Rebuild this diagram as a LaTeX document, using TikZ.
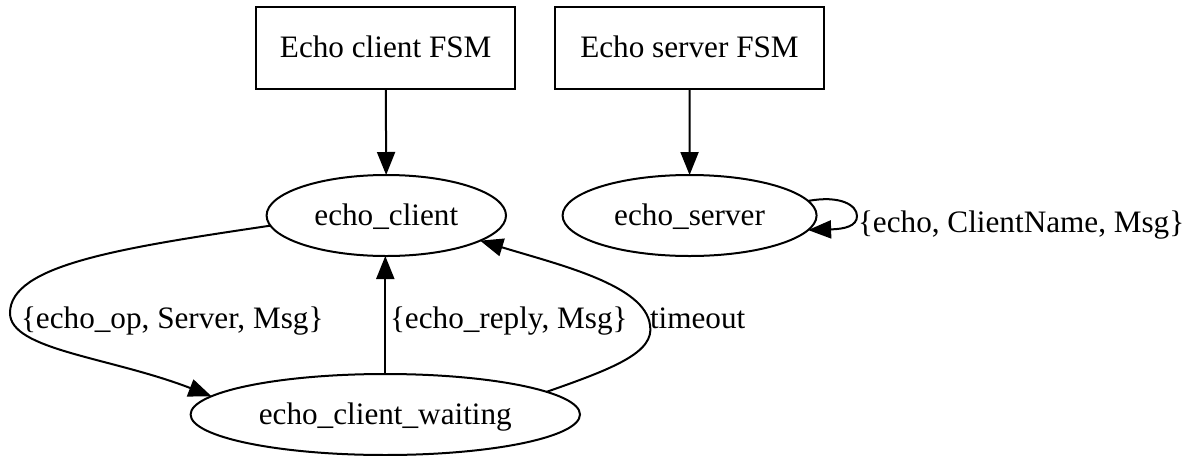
\documentclass[tikz,border=0pt]{standalone}
\usepackage{fontspec}
\setmainfont{Liberation Serif}
\usetikzlibrary{shapes.geometric,arrows.meta}
\begin{document}
\begin{tikzpicture}[x=0.5pt,y=-0.5pt,
  font=\fontsize{15.6}{18}\selectfont,
  every node/.style={inner sep=0pt,outer sep=0pt},
  state/.style={ellipse,draw,line width=1pt,minimum height=81pt*0.5,text height=1em,text depth=0.04em},
  fsmbox/.style={rectangle,draw,line width=1pt,minimum height=81.4pt*0.5,text height=1em,text depth=0.04em},
  arr/.style={line width=1pt,-{Triangle[length=11.5pt,width=9pt]}},
  lbl/.style={anchor=base west}]
\useasboundingbox (0,0) rectangle (1191,456);
% nodes
\node[fsmbox,minimum width=129.7pt] (cbox) at (385.7,48) {Echo client FSM};
\node[fsmbox,minimum width=134.5pt] (sbox) at (689.5,48) {Echo server FSM};
\node[state,minimum width=119.7pt] (cli) at (386.3,215.5) {echo\_client};
\node[state,minimum width=127pt] (srv) at (689.6,215.5) {echo\_server};
\node[state,minimum width=194.7pt] (wait) at (385.3,414.5) {echo\_client\_waiting};
% edges
\draw[arr] (cbox) -- (cli);
\draw[arr] (sbox) -- (srv);
\draw[arr] (cli.185) .. controls (120,248) and (10,265) .. (10,313)
  .. controls (10,350) and (110,357) .. (wait.174);
\draw[arr] (wait.north) -- (wait.north |- cli.south);
\draw[arr] (wait.8) .. controls (615,368) and (655,352) .. (650,325)
  .. controls (645,285) and (560,265) .. (cli.345);
\draw[arr] (srv.7) .. controls (840,195) and (857,205) .. (857,216)
  .. controls (857,226) and (845,229) .. (srv.353);
% labels
\node[lbl] (l1) at (21,328) {\{echo\_op, Server, Msg\}};
\node[lbl] (l2) at (390,328) {\{echo\_reply, Msg\}};
\node[lbl] (l3) at (650,328) {timeout};
\node[lbl] (l4) at (858,232) {\{echo, ClientName, Msg\}};
\end{tikzpicture}
\end{document}
